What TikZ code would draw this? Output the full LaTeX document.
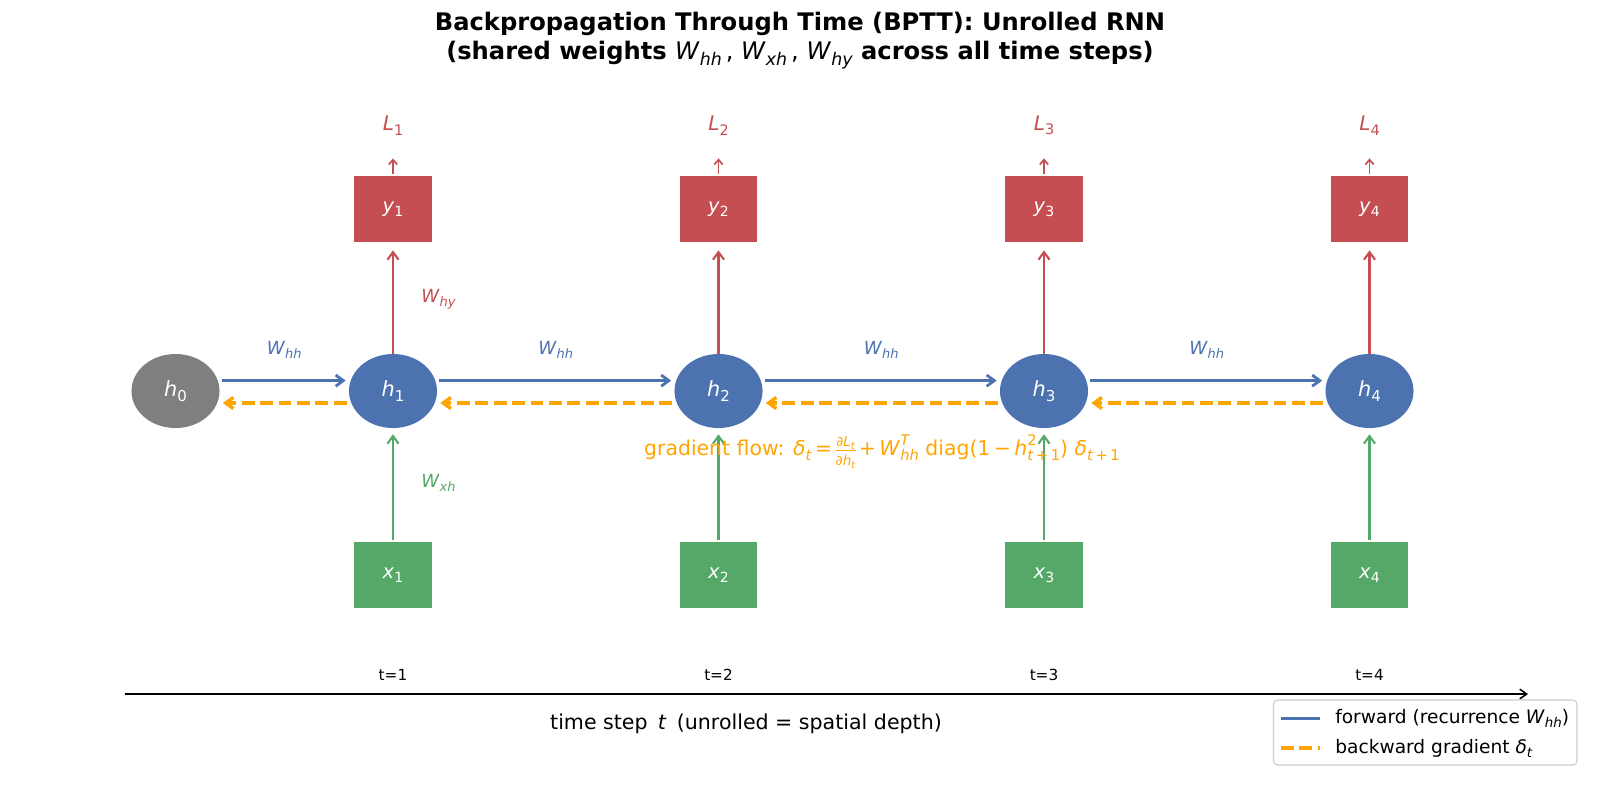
\documentclass[tikz,border=0pt]{standalone}
\usepackage{fontspec}
\setmainfont{DejaVu Sans}
\usetikzlibrary{arrows.meta,shapes.geometric,calc}
\definecolor{cblue}{HTML}{4C72B0}
\definecolor{cred}{HTML}{C44E52}
\definecolor{cgreen}{HTML}{55A868}
\definecolor{cgray}{HTML}{7F7F7F}
\definecolor{corange}{HTML}{FFA500}
\definecolor{clegend}{HTML}{CCCCCC}
\newcommand{\sbs}[1]{\raisebox{-0.22em}{\scalebox{0.72}{#1}}}
\newcommand{\sps}[1]{\raisebox{0.5em}{\scalebox{0.72}{#1}}}
\newcommand{\vsub}[2]{\textit{#1}\sbs{#2}}
\newcommand{\fs}[1]{\fontsize{#1}{#1}\selectfont}
\newcommand{\myfrac}[2]{\raisebox{-0.05em}{$\vcenter{\hbox{\begin{tabular}{@{}c@{}}#1\\[-0.25em]\noalign{\vskip0.15em\hrule height 0.25pt\vskip0.05em}#2\end{tabular}}}$}}
\tikzset{
  hnode/.style={ellipse, minimum width=63.4pt, minimum height=53.3pt, inner sep=0pt, text=white, font=\fs{15}},
  ybox/.style={rectangle, fill=cred, minimum width=55.8pt, minimum height=47.5pt, inner sep=0pt, text=white, font=\fs{14}},
  xbox/.style={rectangle, fill=cgreen, minimum width=55.8pt, minimum height=47.5pt, inner sep=0pt, text=white, font=\fs{14}},
  head/.style={-{Straight Barb[length=5.5pt,width=8pt]}},
  fwd/.style={draw=cblue, line width=2pt, head},
  bwd/.style={draw=corange, line width=2.5pt, dash pattern=on 9.25pt off 4pt, head},
  upred/.style={draw=cred, line width=1.5pt, head},
  upgreen/.style={draw=cgreen, line width=1.5pt, head},
  lossarr/.style={draw=cred, line width=1.2pt, -{Straight Barb[length=3.5pt,width=6pt]}},
  wlbl/.style={inner sep=0pt, font=\fs{13}},
}
\begin{document}
\begin{tikzpicture}[x=0.72pt,y=-0.72pt]
\useasboundingbox (0,0) rectangle (1600,790);
% title
\node[font=\bfseries\fs{17.4}] (title1) at (800,23.5) {Backpropagation Through Time (BPTT): Unrolled RNN};
\node[font=\bfseries\fs{17.4}] (title2) at (800,55) {(shared weights {\mdseries\vsub{W}{\textit{hh}}\,, \vsub{W}{\textit{xh}}\,, \vsub{W}{\textit{hy}}} across all time steps)};
% h0
\node[hnode, fill=cgray] (h0) at (175.5,391) {\vsub{h}{0}};
\foreach \i/\x in {1/393,2/718.5,3/1044,4/1369.5}{
  \node[hnode, fill=cblue] (h\i) at (\x,391) {\vsub{h}{\i}};
  \node[ybox] (y\i) at (\x,209) {\vsub{y}{\i}};
  \node[xbox] (x\i) at (\x,575) {\vsub{x}{\i}};
  \node[text=cred, font=\fs{14.5}, inner sep=0pt] (L\i) at (\x,125.5) {\vsub{L}{\i}};
  \node[font=\fs{11}, inner sep=0pt] (t\i) at (\x,674.5) {t=\i};
  \draw[upred] (h\i.north) -- ([yshift=-5.8pt]y\i.south);
  \draw[upgreen] ([yshift=1.5pt]x\i.north) -- ([yshift=-4.3pt]h\i.south);
  \draw[lossarr] ([yshift=1.5pt]y\i.north) -- ([yshift=12.5pt]y\i.north);
}
% recurrence arrows
\foreach \a/\b in {0/1,1/2,2/3,3/4}{
  \draw[fwd] ([shift={(2,-10.4)}]h\a.east) -- ([shift={(-3,-10.4)}]h\b.west);
  \draw[bwd] ([shift={(-2,12)}]h\b.west) -- ([shift={(3,12)}]h\a.east);
}
% W_hh labels
\foreach \a/\b in {0/1,1/2,2/3,3/4}{
  \node[wlbl, text=cblue] (whh\a) at ($(h\a.east)!0.5!(h\b.west)+(0,-41)$) {\vsub{W}{\textit{hh}}};
}
\node[wlbl, text=cred, anchor=west] (why) at (421,299) {\vsub{W}{\textit{hy}}};
\node[wlbl, text=cgreen, anchor=west] (wxh) at (421,483) {\vsub{W}{\textit{xh}}};
% gradient label
\node[text=corange, font=\fs{14.7}, inner sep=0pt] (grad) at (882,452) {gradient flow: \textit{δ}\sbs{\textit{t}}\,=\,\myfrac{\fs{9.8}∂\textit{L}\sbs{\textit{t}}}{\fs{9.8}∂\textit{h}\sbs{\textit{t}}}\,+\,\textit{W}\rlap{\sps{\textit{T}}}\sbs{\textit{hh}} diag(1\,−\,\textit{h}\rlap{\sps{2}}\sbs{\textit{t}\,+\,1}) \textit{δ}\sbs{\textit{t}\,+\,1}};
% time axis
\coordinate (ax0) at (124.5,694);
\coordinate (ax1) at (1528,694);
\draw[line width=1.1pt, -{Straight Barb[length=5pt,width=7pt]}] (ax0) -- (ax1);
\node[font=\fs{14.8}, inner sep=0pt] (tlabel) at (746,723.5) {time step\enspace\textit{t}\enspace(unrolled = spatial depth)};
% legend
\draw[draw=clegend, fill=white, rounded corners=3pt, line width=0.8pt] (1273.5,700) rectangle (1577,765);
\coordinate (lg1a) at (1281,718.5); \coordinate (lg1b) at (1320,718.5);
\coordinate (lg2a) at (1281,748); \coordinate (lg2b) at (1320,748);
\draw[cblue, line width=2.2pt] (lg1a) -- (lg1b);
\draw[corange, line width=2.5pt, dash pattern=on 9.25pt off 4pt] (lg2a) -- (lg2b);
\node[anchor=west, font=\fs{13.4}, inner sep=0pt] (lgt1) at (1335,718.5) {forward (recurrence \vsub{W}{\textit{hh}})};
\node[anchor=west, font=\fs{13.4}, inner sep=0pt] (lgt2) at (1335,748) {backward gradient \textit{δ}\sbs{\textit{t}}};
\end{tikzpicture}
\end{document}
